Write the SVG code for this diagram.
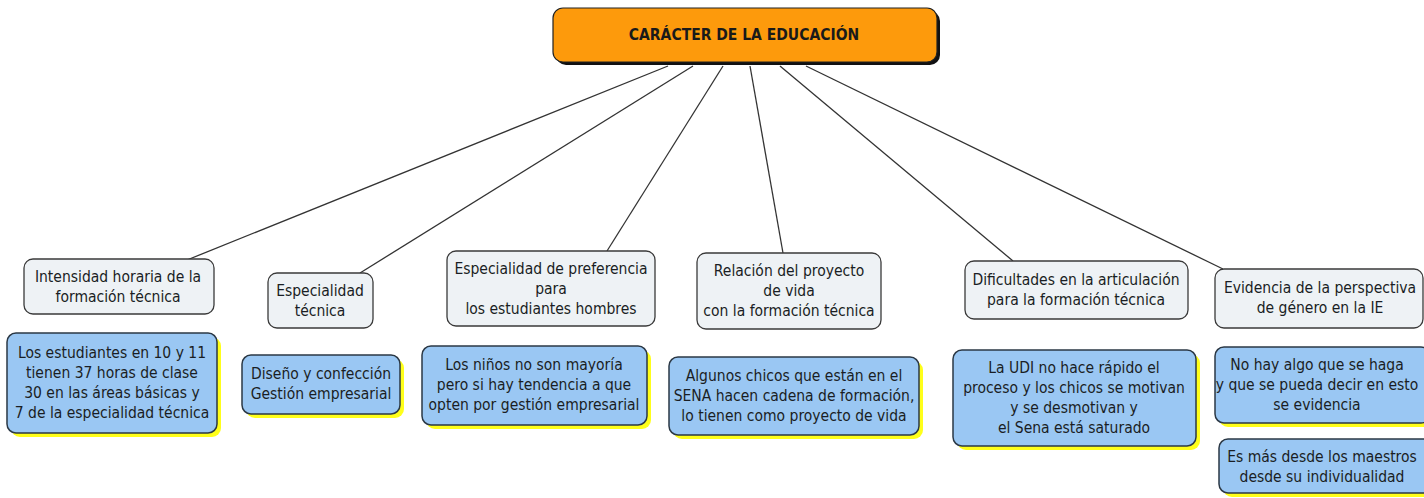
<svg xmlns="http://www.w3.org/2000/svg" width="1424" height="498" viewBox="0 0 1424 498">
<style>
text{font-family:"DejaVu Sans Condensed","DejaVu Sans",Verdana,sans-serif;font-stretch:condensed;font-size:15.5px;fill:#1a1e24;text-anchor:middle}
.title{font-weight:bold;font-size:15.5px;fill:#1a1a1a}
.gray{fill:#eef2f5;stroke:#3a3a3a;stroke-width:1.3}
.blue{fill:#9ac7f3;stroke:#2b3845;stroke-width:1.5}
.ysh{fill:#ffff1a}
.conn line{stroke:#333;stroke-width:1.3}
</style>
<rect width="1424" height="498" fill="#fff"/>
<g class="conn">
<line x1="668" y1="66" x2="187" y2="260"/>
<line x1="693" y1="66" x2="360" y2="273"/>
<line x1="723" y1="66" x2="607" y2="251"/>
<line x1="750" y1="66" x2="783" y2="253"/>
<line x1="780" y1="66" x2="1013" y2="261"/>
<line x1="806" y1="66" x2="1223" y2="269"/>
</g>
<g id="root">
<rect x="556" y="11" width="384" height="54" rx="10" fill="#111"/>
<rect x="553" y="8" width="384" height="54" rx="10" fill="#fd9a0c" stroke="#222" stroke-width="1.2"/>
<text class="title" x="744" y="40">CARÁCTER DE LA EDUCACIÓN</text>
</g>
<g id="g1">
<rect class="gray" x="24" y="259" width="190" height="55" rx="9"/>
<text x="118" y="282">Intensidad horaria de la</text>
<text x="118" y="302">formación técnica</text>
</g>
<g id="g2">
<rect class="gray" x="268" y="273" width="105" height="55" rx="9"/>
<text x="320" y="296">Especialidad</text>
<text x="320" y="316">técnica</text>
</g>
<g id="g3">
<rect class="gray" x="447" y="251" width="208" height="75" rx="9"/>
<text x="551" y="274">Especialidad de preferencia</text>
<text x="551" y="294">para</text>
<text x="551" y="314">los estudiantes hombres</text>
</g>
<g id="g4">
<rect class="gray" x="697" y="253" width="184" height="76" rx="9"/>
<text x="789" y="276">Relación del proyecto</text>
<text x="789" y="296">de vida</text>
<text x="789" y="316">con la formación técnica</text>
</g>
<g id="g5">
<rect class="gray" x="965" y="261" width="223" height="58" rx="9"/>
<text x="1076" y="285">Dificultades en la articulación</text>
<text x="1076" y="305">para la formación técnica</text>
</g>
<g id="g6">
<rect class="gray" x="1215" y="269" width="208" height="59" rx="9"/>
<text x="1320" y="293">Evidencia de la perspectiva</text>
<text x="1320" y="313">de género en la IE</text>
</g>
<g id="b1">
<rect class="ysh" x="11" y="337" width="210" height="100" rx="9"/>
<rect class="blue" x="7" y="333" width="210" height="100" rx="9"/>
<text x="112" y="358">Los estudiantes en 10 y 11</text>
<text x="112" y="378">tienen 37 horas de clase</text>
<text x="112" y="398">30 en las áreas básicas y</text>
<text x="112" y="418">7 de la especialidad técnica</text>
</g>
<g id="b2">
<rect class="ysh" x="246" y="359" width="158" height="59" rx="9"/>
<rect class="blue" x="242" y="355" width="158" height="59" rx="9"/>
<text x="321" y="379">Diseño y confección</text>
<text x="321" y="399">Gestión empresarial</text>
</g>
<g id="b3">
<rect class="ysh" x="426" y="350" width="225" height="79" rx="9"/>
<rect class="blue" x="422" y="346" width="225" height="79" rx="9"/>
<text x="534" y="370">Los niños no son mayoría</text>
<text x="534" y="390">pero si hay tendencia a que</text>
<text x="534" y="410">opten por gestión empresarial</text>
</g>
<g id="b4">
<rect class="ysh" x="673" y="361" width="250" height="78" rx="9"/>
<rect class="blue" x="669" y="357" width="250" height="78" rx="9"/>
<text x="794" y="381">Algunos chicos que están en el</text>
<text x="794" y="401">SENA hacen cadena de formación,</text>
<text x="794" y="421">lo tienen como proyecto de vida</text>
</g>
<g id="b5">
<rect class="ysh" x="957" y="354" width="243" height="96" rx="9"/>
<rect class="blue" x="953" y="350" width="243" height="96" rx="9"/>
<text x="1074" y="373">La UDI no hace rápido el</text>
<text x="1074" y="393">proceso y los chicos se motivan</text>
<text x="1074" y="413">y se desmotivan y</text>
<text x="1074" y="433">el Sena está saturado</text>
</g>
<g id="b6">
<rect class="ysh" x="1219" y="351" width="215" height="76" rx="9"/>
<rect class="blue" x="1215" y="347" width="215" height="76" rx="9"/>
<text x="1317" y="370">No hay algo que se haga</text>
<text x="1317" y="390">y que se pueda decir en esto</text>
<text x="1317" y="410">se evidencia</text>
</g>
<g id="b7">
<rect class="ysh" x="1223" y="443" width="215" height="54" rx="9"/>
<rect class="blue" x="1219" y="439" width="215" height="54" rx="9"/>
<text x="1322" y="462">Es más desde los maestros</text>
<text x="1322" y="482">desde su individualidad</text>
</g>
</svg>
